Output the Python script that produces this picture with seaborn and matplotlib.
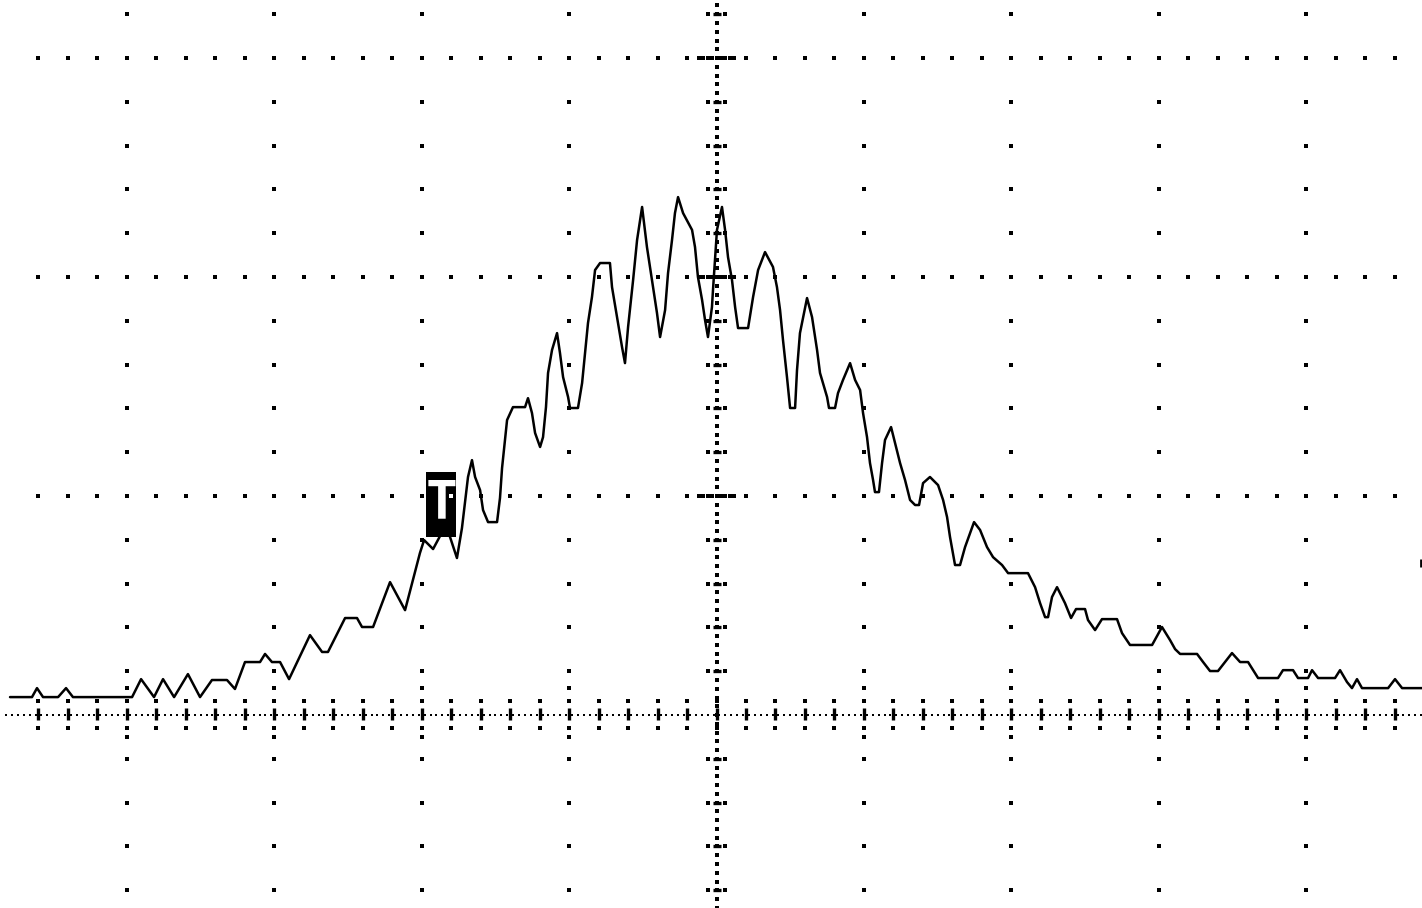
import numpy as np
import matplotlib
matplotlib.use("Agg")
import matplotlib.pyplot as plt
import seaborn as sns
from matplotlib.patches import Rectangle

# ---------------- data (time and amplitude in screen divisions) ----------------
time_div = [-4.793, -4.644, -4.610, -4.569, -4.467, -4.413, -4.366, -3.965, -3.904, -3.816,
            -3.755, -3.680, -3.586, -3.504, -3.423, -3.321, -3.267, -3.199, -3.097, -3.063,
            -3.016, -2.961, -2.900, -2.758, -2.676, -2.636, -2.520, -2.439, -2.405, -2.330,
            -2.215, -2.113, -2.012, -1.984, -1.923, -1.876, -1.835, -1.808, -1.761, -1.727,
            -1.686, -1.659, -1.638, -1.604, -1.584, -1.550, -1.489, -1.469, -1.455, -1.421,
            -1.381, -1.299, -1.279, -1.252, -1.231, -1.197, -1.177, -1.157, -1.143, -1.116,
            -1.082, -1.062, -1.041, -1.007, -0.994, -0.940, -0.912, -0.892, -0.872, -0.845,
            -0.824, -0.790, -0.723, -0.709, -0.675, -0.641, -0.621, -0.600, -0.566, -0.539,
            -0.505, -0.472, -0.438, -0.404, -0.383, -0.349, -0.329, -0.302, -0.282, -0.261,
            -0.227, -0.166, -0.146, -0.126, -0.098, -0.078, -0.058, -0.031, -0.024, 0.003,
            0.037, 0.058, 0.078, 0.105, 0.126, 0.146, 0.214, 0.248, 0.282, 0.329,
            0.383, 0.410, 0.431, 0.451, 0.478, 0.499, 0.533, 0.546, 0.566, 0.614,
            0.648, 0.682, 0.702, 0.750, 0.763, 0.804, 0.824, 0.858, 0.906, 0.940,
            0.974, 0.994, 1.021, 1.041, 1.062, 1.075, 1.102, 1.123, 1.143, 1.184,
            1.211, 1.245, 1.279, 1.313, 1.347, 1.374, 1.401, 1.448, 1.503, 1.537,
            1.564, 1.584, 1.618, 1.652, 1.686, 1.747, 1.788, 1.835, 1.876, 1.937,
            1.978, 2.113, 2.161, 2.195, 2.229, 2.249, 2.276, 2.310, 2.364, 2.405,
            2.439, 2.500, 2.520, 2.568, 2.615, 2.717, 2.751, 2.805, 2.955, 3.022,
            3.077, 3.111, 3.145, 3.260, 3.301, 3.348, 3.402, 3.497, 3.552, 3.606,
            3.674, 3.809, 3.843, 3.911, 3.945, 4.013, 4.040, 4.081, 4.196, 4.230,
            4.277, 4.311, 4.345, 4.379, 4.556, 4.603, 4.651, 4.786]

amplitude_div = [0.082, 0.082, 0.123, 0.082, 0.082, 0.123, 0.082, 0.082, 0.164, 0.082,
                 0.164, 0.082, 0.187, 0.082, 0.160, 0.160, 0.119, 0.242, 0.242, 0.279,
                 0.242, 0.242, 0.164, 0.365, 0.288, 0.288, 0.443, 0.443, 0.402, 0.402,
                 0.607, 0.479, 0.740, 0.799, 0.758, 0.817, 0.854, 0.813, 0.717, 0.854,
                 1.087, 1.164, 1.087, 1.027, 0.936, 0.881, 0.881, 0.991, 1.128, 1.347,
                 1.406, 1.406, 1.447, 1.379, 1.288, 1.224, 1.269, 1.406, 1.562, 1.667,
                 1.744, 1.653, 1.543, 1.452, 1.402, 1.402, 1.516, 1.653, 1.790, 1.909,
                 2.032, 2.064, 2.064, 1.954, 1.817, 1.680, 1.607, 1.772, 1.986, 2.169,
                 2.320, 2.137, 1.986, 1.836, 1.726, 1.849, 2.018, 2.169, 2.292, 2.365,
                 2.292, 2.215, 2.137, 2.000, 1.895, 1.804, 1.726, 1.863, 1.941, 2.215,
                 2.320, 2.215, 2.091, 1.986, 1.863, 1.767, 1.767, 1.909, 2.032, 2.114,
                 2.046, 1.954, 1.849, 1.712, 1.543, 1.402, 1.402, 1.575, 1.744, 1.904,
                 1.817, 1.667, 1.562, 1.452, 1.402, 1.402, 1.470, 1.530, 1.607, 1.530,
                 1.484, 1.379, 1.269, 1.151, 1.073, 1.018, 1.018, 1.151, 1.256, 1.315,
                 1.242, 1.151, 1.073, 0.982, 0.959, 0.959, 1.059, 1.087, 1.050, 0.982,
                 0.904, 0.813, 0.685, 0.685, 0.767, 0.881, 0.845, 0.767, 0.721, 0.685,
                 0.648, 0.648, 0.584, 0.511, 0.447, 0.447, 0.539, 0.584, 0.511, 0.443,
                 0.484, 0.484, 0.434, 0.388, 0.438, 0.438, 0.374, 0.320, 0.320, 0.402,
                 0.342, 0.301, 0.279, 0.279, 0.242, 0.201, 0.201, 0.283, 0.242, 0.242,
                 0.169, 0.169, 0.205, 0.205, 0.169, 0.169, 0.205, 0.169, 0.169, 0.205,
                 0.151, 0.123, 0.164, 0.123, 0.123, 0.164, 0.123, 0.123]

assert len(time_div) == len(amplitude_div)

trigger_label = "T"
trigger_time = -1.869
trigger_level = 0.962
level_marker = 0.695

# ---------------- figure ----------------
sns.set_theme(style="white")
plt.rcParams["font.family"] = ["DejaVu Sans"]

fig = plt.figure(figsize=(14.22, 9.08), dpi=100)
ax = fig.add_axes([0, 0, 1, 1])
ax.set_xlim(-4.861, 4.786)
ax.set_ylim(-0.881, 3.265)
ax.axis("off")
fig.patch.set_facecolor("white")


def dots(xs, ys, s=6, marker="s", lw=0):
    sns.scatterplot(x=np.asarray(xs, float), y=np.asarray(ys, float), marker=marker,
                    s=s, color="black", linewidth=lw, edgecolor="black",
                    legend=False, ax=ax, zorder=2)


minor_x = np.round(np.arange(-4.6, 4.61, 0.2), 3)
minor_y = np.round(np.arange(-0.8, 3.21, 0.2), 3)

# major dotted rows
fine = np.round(np.arange(-0.12, 0.121, 0.03), 3)
for yr in (1, 2, 3):
    xs = np.concatenate([minor_x, fine])
    dots(xs, np.full(len(xs), yr))

# major dotted columns
for xc in (-4, -3, -2, -1, 1, 2, 3, 4):
    ys = minor_y[np.abs(minor_y) > 0.01]
    ys = np.concatenate([ys, [0.123, -0.10]])
    dots(np.full(len(ys), xc), ys)

# centre vertical line: fine dots + dashes
cy = np.round(np.arange(-0.88, 3.25, 0.04), 3)
dots(np.full(len(cy), 0.003), cy, s=5)
dy = minor_y[np.all([np.abs(minor_y - k) > 0.01 for k in (0, 1, 2, 3)], axis=0)]
dots(np.full(len(dy), 0.003), dy, s=40, marker="_", lw=2.4)
dots(np.full(len(dy), -0.058), dy)
dots(np.full(len(dy), 0.058), dy)

# centre horizontal axis: fine dots + tick marks
axx = np.round(np.arange(-4.82, 4.79, 0.04), 3)
dots(axx, np.zeros(len(axx)), s=4)
dots(minor_x, np.full(len(minor_x), 0.007), s=75, marker="|", lw=2.4)
dots(minor_x, np.full(len(minor_x), 0.066), s=5)
dots(minor_x, np.full(len(minor_x), -0.057), s=5)

# level marker at right edge
dots([4.778], [level_marker], s=40, marker="|", lw=2.0)

# ---------------- trace ----------------
sns.lineplot(x=time_div, y=amplitude_div, sort=False, estimator=None,
             color="black", linewidth=1.8, ax=ax, zorder=3)

# ---------------- trigger marker ----------------
ax.add_patch(Rectangle((trigger_time - 0.102, trigger_level - 0.149), 0.204, 0.297,
                       facecolor="black", edgecolor="none", zorder=5))
ax.text(trigger_time, trigger_level + 0.005, trigger_label, color="white",
        fontsize=38, fontweight="bold", family="DejaVu Sans Mono",
        ha="center", va="center", zorder=6)
sns.scatterplot(x=[-1.8], y=[1.0], marker="s", s=6, color="white", linewidth=0,
                legend=False, ax=ax, zorder=7)

fig.savefig("out.png", dpi=100, facecolor="white")
